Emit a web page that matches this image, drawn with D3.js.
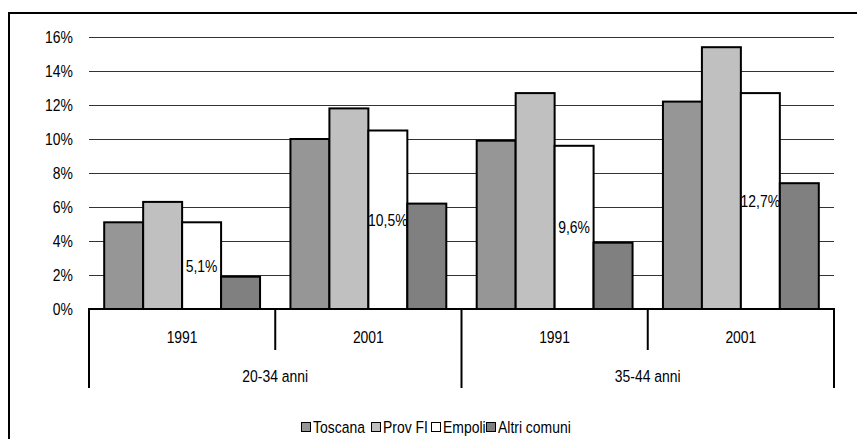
<!DOCTYPE html>
<html><head><meta charset="utf-8">
<script src="https://cdn.jsdelivr.net/npm/d3@7"></script>
<style>
html,body{margin:0;padding:0;background:#fff;}
text{font-family:"Liberation Sans",Arial,sans-serif;fill:#000;}
</style></head>
<body><svg id="c" width="857" height="439"></svg>
<script>
const ageGroups = ["20-34 anni", "35-44 anni"];
const years = ["1991", "2001"];
const categories = ["20-34 anni|1991", "20-34 anni|2001", "35-44 anni|1991", "35-44 anni|2001"];
const seriesNames = ["Toscana", "Prov FI", "Empoli", "Altri comuni"];
const toscana = [5.1, 10.0, 9.9, 12.2];
const provFI = [6.3, 11.8, 12.7, 15.4];
const empoli = [5.1, 10.5, 9.6, 12.7];
const altri = [1.9, 6.2, 3.9, 7.4];
const empoliLabels = ["5,1%", "10,5%", "9,6%", "12,7%"];
const yTicks = [0, 2, 4, 6, 8, 10, 12, 14, 16];
const colors = ["#969696", "#c0c0c0", "#ffffff", "#808080"];

const series = [toscana, provFI, empoli, altri];
const svg = d3.select("#c");
const FS = 17, SX = 0.82;
function label(parent, x, y, txt, anchor) {
  return parent.append("text")
    .attr("transform", `translate(${x},${y}) scale(${SX},1)`)
    .attr("text-anchor", anchor || "start")
    .attr("font-size", FS)
    .text(txt);
}

// outer frame
svg.append("rect").attr("x", 9).attr("y", 13).attr("width", 860).attr("height", 440)
  .attr("fill", "none").attr("stroke", "#000").attr("stroke-width", 2);

const x0 = d3.scaleBand().domain(categories).range([89, 834]).paddingInner(0).paddingOuter(0);
const x1 = d3.scaleBand().domain(seriesNames).range([0, x0.bandwidth()]).paddingOuter(0.39).paddingInner(0);
const y = d3.scaleLinear().domain([0, 16]).range([309, 37]);

// gridlines + y labels
const gy = svg.append("g");
yTicks.forEach(t => {
  if (t > 0) {
    gy.append("line").attr("x1", 89).attr("x2", 834).attr("y1", Math.round(y(t)) + 0.5).attr("y2", Math.round(y(t)) + 0.5)
      .attr("stroke", "#333").attr("stroke-width", 1);
  }
  label(gy, 73, y(t) + 6, t + "%", "end");
});

// bars
const g = svg.append("g");
categories.forEach((c, i) => {
  seriesNames.forEach((s, j) => {
    const v = series[j][i];
    g.append("rect")
      .attr("x", x0(c) + x1(s))
      .attr("y", y(v))
      .attr("width", x1.bandwidth())
      .attr("height", y(0) - y(v))
      .attr("fill", colors[j])
      .attr("stroke", "#000").attr("stroke-width", 2);
  });
  const v = empoli[i];
  label(g, x0(c) + x1("Empoli") + x1.bandwidth() / 2, (y(v) + y(0)) / 2 + 6, empoliLabels[i], "middle");
});

// hierarchical x axis
const ax = svg.append("g").attr("stroke", "#000");
ax.append("line").attr("x1", 88).attr("x2", 835).attr("y1", y(0)).attr("y2", y(0)).attr("stroke-width", 2);
const boundaries = categories.map(c => x0(c)).concat([x0.range()[1]]);
boundaries.forEach((b, i) => {
  const outer = (i % 2 === 0);
  ax.append("line").attr("x1", b).attr("x2", b).attr("y1", y(0)).attr("y2", outer ? 388 : 350)
    .attr("stroke-width", 2);
});
categories.forEach(c => {
  label(svg, x0(c) + x0.bandwidth() / 2, 343, c.split("|")[1], "middle");
});
ageGroups.forEach((a, k) => {
  const cx = (x0(categories[k * 2]) + x0(categories[k * 2 + 1]) + x0.bandwidth()) / 2;
  label(svg, cx, 382, a, "middle");
});

// legend
const legendX = [301, 371, 431, 486];
const lg = svg.append("g");
seriesNames.forEach((s, j) => {
  lg.append("rect").attr("x", legendX[j] + 0.5).attr("y", 422.5).attr("width", 9).attr("height", 9)
    .attr("fill", colors[j]).attr("stroke", "#000").attr("stroke-width", 1);
  label(lg, legendX[j] + 12, 433, s, "start");
});
</script></body></html>
